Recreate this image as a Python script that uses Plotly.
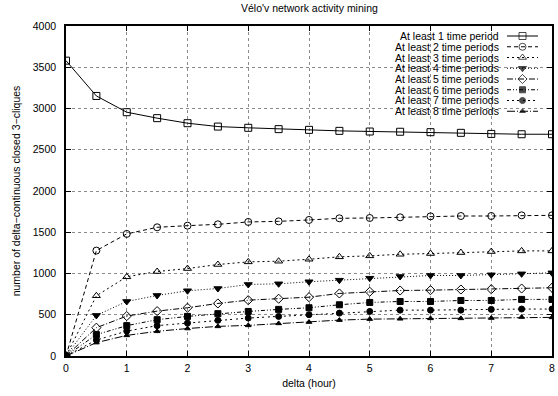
import plotly.graph_objects as go

# ---------------- data ----------------
delta = [0, 0.5, 1, 1.5, 2, 2.5, 3, 3.5, 4, 4.5, 5, 5.5, 6, 6.5, 7, 7.5, 8]

s1 = [3580, 3152, 2955, 2883, 2822, 2781, 2766, 2750, 2741, 2729, 2721, 2718, 2713, 2705, 2692, 2688, 2688]
s2 = [0, 1278, 1480, 1560, 1580, 1596, 1625, 1632, 1649, 1669, 1673, 1681, 1693, 1697, 1697, 1705, 1705]
s3 = [0, 730, 960, 1024, 1060, 1109, 1141, 1149, 1173, 1202, 1214, 1233, 1242, 1254, 1266, 1274, 1274]
s4 = [0, 492, 661, 734, 791, 818, 867, 875, 900, 919, 943, 964, 976, 976, 984, 996, 1008]
s5 = [0, 343, 484, 544, 585, 637, 677, 694, 713, 758, 779, 794, 798, 806, 810, 818, 827]
s6 = [0, 259, 368, 440, 480, 513, 540, 565, 585, 621, 649, 661, 661, 673, 673, 686, 686]
s7 = [0, 193, 302, 368, 399, 432, 460, 480, 501, 520, 540, 556, 556, 556, 565, 569, 569]
s8 = [0, 162, 250, 299, 333, 359, 371, 395, 411, 435, 447, 451, 456, 456, 460, 472, 468]

names = ["At least 1 time period", "At least 2 time periods", "At least 3 time periods",
         "At least 4 time periods", "At least 5 time periods", "At least 6 time periods",
         "At least 7 time periods", "At least 8 time periods"]
series = [s1, s2, s3, s4, s5, s6, s7, s8]

x_ticks = [0, 1, 2, 3, 4, 5, 6, 7, 8]
y_ticks = [0, 500, 1000, 1500, 2000, 2500, 3000, 3500, 4000]

title_text = "Vélo'v network activity mining"
x_title = "delta (hour)"
y_title = "number of delta\u2212continuous closed 3\u2212cliques"

# ---------------- styles ----------------
symbols = ["square-open", "circle-open", "triangle-up-open", "triangle-down",
           "diamond-open", "square", "circle", "triangle-up"]
msizes = [7, 7, 7, 7, 7, 6, 6, 5]
dashes = ["solid", "4px,3px", "2px,3px", "1px,2px", "6px,2px,1px,2px",
          "4px,2px,1px,2px,1px,2px", "2px,3px,2px,3px,2px,4px", "8px,2px,1px,2px"]

FONT = "Liberation Sans, Arial, Helvetica, sans-serif"
W, H = 558, 396
ML, MR, MT, MB = 66, 6, 26, 40
PW, PH = W - ML - MR, H - MT - MB

fig = go.Figure()
for name, ys, sym, ms, dash in zip(names, series, symbols, msizes, dashes):
    fig.add_trace(go.Scatter(
        x=delta, y=ys, mode="lines+markers", name=name, showlegend=False,
        line=dict(color="black", width=1, dash=dash),
        marker=dict(symbol=sym, size=ms, color="black", line=dict(color="black", width=1)),
    ))

# ---------------- manual legend (gnuplot style: text left, sample right) ----------------
row0_px = 36.0
step_px = 10.75
sx0 = (507 - ML) / PW
sx1 = (538 - ML) / PW
text_x = (500 - ML) / PW
for i, (name, sym, ms, dash) in enumerate(zip(names, symbols, msizes, dashes)):
    yy = (H - MB - (row0_px + i * step_px)) / PH
    fig.add_trace(go.Scatter(
        x=[sx0, (sx0 + sx1) / 2, sx1], y=[yy, yy, yy], xaxis="x2", yaxis="y2",
        mode="lines+markers", showlegend=False, hoverinfo="skip",
        line=dict(color="black", width=1, dash=dash),
        marker=dict(symbol=[sym, sym, sym], size=[0, ms, 0], color="black",
                    line=dict(color="black", width=1)),
    ))
    fig.add_annotation(x=text_x, y=yy, xref="paper", yref="paper", text=name,
                       showarrow=False, xanchor="right", yanchor="middle",
                       borderpad=0,
                       font=dict(family=FONT, size=10.5, color="black"))

# title as annotation
fig.add_annotation(x=0.5, y=(H - MB - 8) / PH, xref="paper", yref="paper", text=title_text,
                   showarrow=False, xanchor="center", yanchor="middle",
                   font=dict(family=FONT, size=10.5, color="black"))

# opaque legend box hiding the grid
fig.add_shape(type="rect", xref="paper", yref="paper",
              x0=(352 - ML) / PW, x1=1.0, y0=(H - MB - 119) / PH, y1=1.0,
              fillcolor="white", line=dict(width=0), layer="between")

axis_common = dict(showline=True, linecolor="black", linewidth=1.5, mirror="ticks",
                   ticks="inside", ticklen=5, tickcolor="black", automargin=False,
                   showgrid=True, gridcolor="#8a8a8a", griddash="dot", gridwidth=1,
                   zeroline=False, tickfont=dict(family=FONT, size=10.5, color="black"))

fig.update_layout(
    width=W, height=H,
    paper_bgcolor="white", plot_bgcolor="white",
    margin=dict(l=ML, r=MR, t=MT, b=MB, autoexpand=False),
    font=dict(family=FONT, size=10.5, color="black"),
    xaxis=dict(range=[0, 8], tickvals=x_ticks, ticktext=[str(t) for t in x_ticks],
               ticklabelstandoff=2,
               title=dict(text=x_title, standoff=6, font=dict(size=10.5)),
               **axis_common),
    yaxis=dict(range=[0, 4000], tickvals=y_ticks, ticktext=[str(t) for t in y_ticks],
               ticklabelstandoff=6,
               title=dict(text=y_title, standoff=10, font=dict(size=10.5)),
               **axis_common),
    xaxis2=dict(range=[0, 1], overlaying="x", visible=False, fixedrange=True),
    yaxis2=dict(range=[0, 1], overlaying="y", visible=False, fixedrange=True),
)

fig.write_html("out.html", config={"displayModeBar": False},
               post_script="document.body.style.margin='0';document.body.style.overflow='hidden';")
